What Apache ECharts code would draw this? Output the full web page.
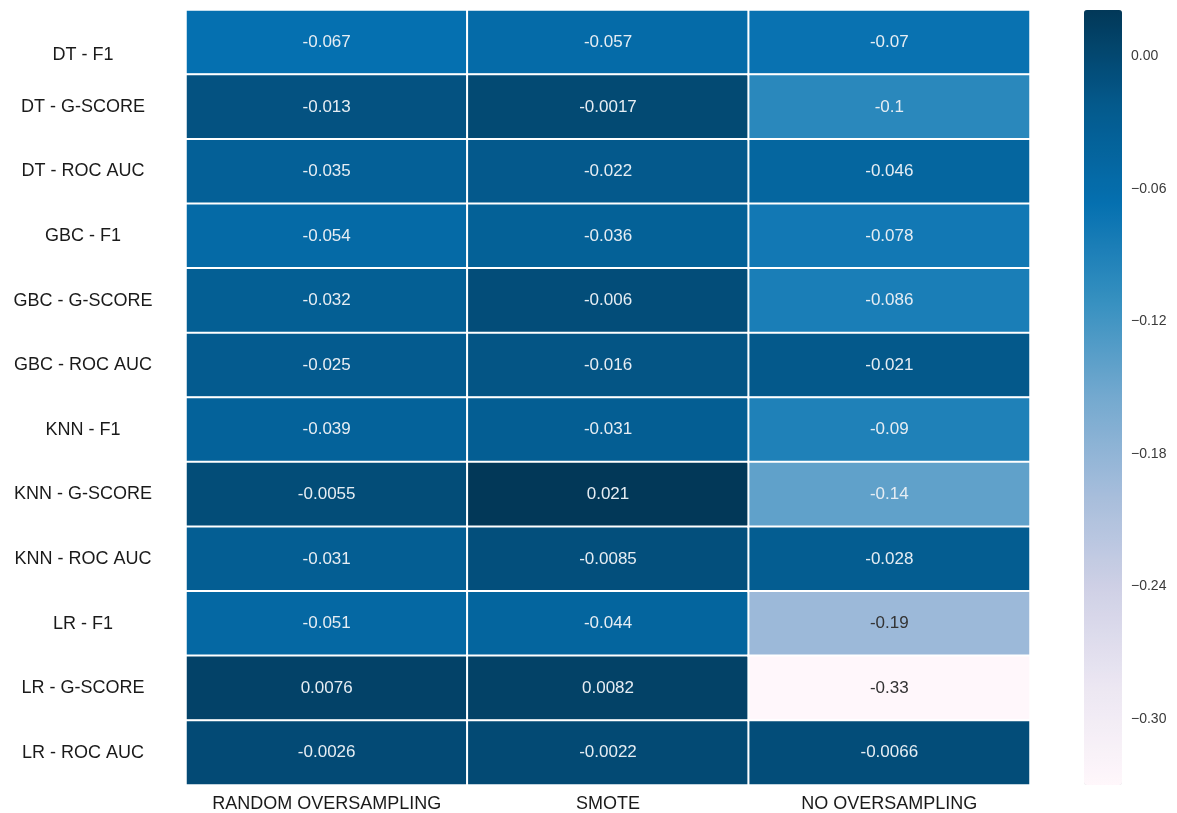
<!DOCTYPE html>
<html>
<head>
<meta charset="utf-8">
<script src="https://cdn.jsdelivr.net/npm/echarts@6/dist/echarts.min.js"></script>
<style>
  html, body { margin: 0; padding: 0; background: #fff; }
  #chart { width: 1177px; height: 813px; }
</style>
</head>
<body>
<div id="chart"></div>
<script>
// Row labels (model - metric), top to bottom
const rowLabels = [
  'DT - F1', 'DT - G-SCORE', 'DT - ROC AUC',
  'GBC - F1', 'GBC - G-SCORE', 'GBC - ROC AUC',
  'KNN - F1', 'KNN - G-SCORE', 'KNN - ROC AUC',
  'LR - F1', 'LR - G-SCORE', 'LR - ROC AUC'
];
// Column labels (resampling strategy)
const colLabels = ['RANDOM OVERSAMPLING', 'SMOTE', 'NO OVERSAMPLING'];

// Score differences per strategy, one entry per row
const randomOversampling = [-0.067, -0.013, -0.035, -0.054, -0.032, -0.025, -0.039, -0.0055, -0.031, -0.051, 0.0076, -0.0026];
const smote              = [-0.057, -0.0017, -0.022, -0.036, -0.006, -0.016, -0.031, 0.021, -0.0085, -0.044, 0.0082, -0.0022];
const noOversampling     = [-0.07, -0.1, -0.046, -0.078, -0.086, -0.021, -0.09, -0.14, -0.028, -0.19, -0.33, -0.0066];

// Colour bar tick values
const colorbarTicks = [0, -0.06, -0.12, -0.18, -0.24, -0.30];

// PuBu colour ramp, light to dark
const puBu = ['#fff7fb', '#ece7f2', '#d0d1e6', '#a6bddb', '#74a9cf', '#3690c0', '#0570b0', '#045a8d', '#023858'];

const columns = [randomOversampling, smote, noOversampling];
const allValues = columns.flat();
const vMin = Math.min(...allValues);
const vMax = Math.max(...allValues);

const FONT = "'Liberation Sans', Arial, Helvetica, sans-serif";

const cells = [];
columns.forEach((col, ci) => {
  col.forEach((v, ri) => {
    cells.push({
      value: [ci, ri, v],
      label: { color: v < -0.16 ? '#333333' : '#e6edf3' }
    });
  });
});

const chart = echarts.init(document.getElementById('chart'));
chart.setOption({
  backgroundColor: '#ffffff',
  animation: false,
  grid: [
    { left: 186, right: 147, top: 10, bottom: 28 },
    { left: 1084, top: 10, width: 38, height: 775 }
  ],
  xAxis: [
    {
      type: 'category',
      data: colLabels,
      position: 'bottom',
      gridIndex: 0,
      axisLine: { show: false },
      axisTick: { show: false },
      splitLine: { show: false },
      axisLabel: { interval: 0, fontSize: 18, color: '#1a1a1a', fontFamily: FONT, margin: 10 }
    },
    { type: 'value', gridIndex: 1, show: false, min: 0, max: 1 }
  ],
  yAxis: [
    {
      type: 'category',
      data: rowLabels,
      inverse: true,
      gridIndex: 0,
      axisLine: { show: false },
      axisTick: { show: false },
      splitLine: { show: false },
      axisLabel: {
        interval: 0,
        fontSize: 18,
        color: '#1a1a1a',
        fontFamily: FONT,
        align: 'center',
        margin: 103,
        // the top row label sits a little lower than its cell centre
        formatter: (v, i) => i === 0 ? '{low|' + v + '}' : v,
        rich: {
          low: { fontSize: 18, color: '#1a1a1a', fontFamily: FONT, padding: [26, 0, 0, 0] }
        }
      }
    },
    {
      type: 'value',
      gridIndex: 1,
      position: 'right',
      min: vMin,
      max: vMax,
      axisLine: { show: false },
      axisTick: { show: false },
      splitLine: { show: false },
      axisLabel: {
        customValues: colorbarTicks,
        margin: 9,
        fontSize: 14,
        color: '#3a3a3a',
        fontFamily: FONT,
        formatter: v => (v < 0 ? '\u2212' : '') + Math.abs(v).toFixed(2)
      }
    }
  ],
  visualMap: {
    type: 'continuous',
    min: vMin,
    max: vMax,
    seriesIndex: 0,
    calculable: false,
    hoverLink: false,
    orient: 'vertical',
    left: 1084,
    top: 10,
    padding: 0,
    itemWidth: 38,
    itemHeight: 775,
    text: null,
    inRange: { color: puBu }
  },
  series: [{
    type: 'heatmap',
    xAxisIndex: 0,
    yAxisIndex: 0,
    data: cells,
    itemStyle: { borderColor: '#ffffff', borderWidth: 2 },
    label: {
      show: true,
      fontSize: 17,
      fontFamily: FONT,
      formatter: p => String(p.value[2])
    },
    emphasis: { disabled: true }
  }]
});
</script>
</body>
</html>
